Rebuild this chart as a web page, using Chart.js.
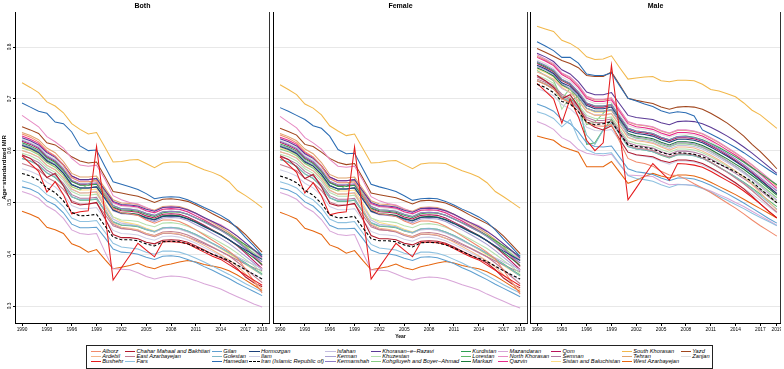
<!DOCTYPE html>
<html><head><meta charset="utf-8">
<script src="https://cdn.jsdelivr.net/npm/chart.js@4.4.1/dist/chart.umd.min.js"></script>
<style>
html,body{margin:0;padding:0;background:#fff;}
#wrap{position:relative;width:784px;height:369px;overflow:hidden;font-family:"Liberation Sans",Arial,sans-serif;}
.p{position:absolute;top:0;height:345px;}
#pA{left:0;width:270px}#pB{left:263px;width:265px}#pC{left:520px;width:261px}
#legend{position:absolute;left:86px;top:345px;width:627px;height:24px;border:1px solid #222;box-sizing:border-box;display:grid;grid-template-rows:repeat(3,5.2px);grid-auto-flow:column;grid-auto-columns:max-content;column-gap:1.4px;padding:3px 0 0 3.5px;font-style:italic;font-size:5.7px;line-height:5.2px;color:#000;}
.it{display:flex;align-items:center;white-space:nowrap}
.sw{display:inline-block;width:10.5px;height:0;border-top:1px solid;margin-right:1.2px}
</style></head>
<body><div id="wrap">
<div class="p" id="pA"><canvas id="cA" width="270" height="345"></canvas></div>
<div class="p" id="pB"><canvas id="cB" width="265" height="345"></canvas></div>
<div class="p" id="pC"><canvas id="cC" width="261" height="345"></canvas></div>
<div id="legend"></div>
</div>
<script>
const years=[1990,1991,1992,1993,1994,1995,1996,1997,1998,1999,2000,2001,2002,2003,2004,2005,2006,2007,2008,2009,2010,2011,2012,2013,2014,2015,2016,2017,2018,2019];
const xTickYears=[1990,1993,1996,1999,2002,2005,2008,2011,2014,2017,2019];
const yTickValues=[0.3,0.4,0.5,0.6,0.7,0.8];
const panelTitles=['Both','Female','Male'];
const provinces=['Alborz','Ardebil','Bushehr','Chahar Mahaal and Bakhtiari','East Azarbayejan','Fars','Gilan','Golestan','Hamedan','Hormozgan','Ilam','Iran (Islamic Republic of)','Isfahan','Kerman','Kermanshah','Khorasan−e−Razavi','Khuzestan','Kohgiluyeh and Boyer−Ahmad','Kurdistan','Lorestan','Markazi','Mazandaran','North Khorasan','Qazvin','Qom','Semnan','Sistan and Baluchistan','South Khorasan','Tehran','West Azarbayejan','Yazd','Zanjan'];
const colors=['#f08a6c','#f3b58a','#e41a1c','#b2182b','#c27c8e','#8ec1e0','#5e9fd0','#7fb8c8','#2b6cb3','#1b3f7a','#cfcfe6','#000000','#c4bde0','#a9a0d2','#8d7cc3','#5b3a96','#b5e0ae','#88cc84','#2e9e50','#5fb868','#1b7a3a','#d8a6d8','#e78ac3','#e7298a','#b8125a','#b07aa1','#fddc84','#f2b84b','#e0a36c','#e6660f','#a0451c','#dedede'];

// Both
const B_Alborz=[.632,.626,.617,.600,.590,.572,.548,.540,.540,.542,.515,.488,.480,.478,.475,.466,.460,.466,.466,.463,.456,.447,.437,.427,.417,.406,.393,.371,.348,.325];
const B_Ardebil=[.600,.595,.588,.572,.563,.548,.526,.518,.518,.520,.490,.460,.452,.450,.447,.440,.435,.441,.441,.439,.433,.425,.417,.408,.399,.389,.377,.362,.347,.333];
const B_Bushehr=[.590,.575,.560,.520,.540,.515,.478,.482,.484,.608,.480,.350,.374,.397,.421,.408,.395,.424,.424,.423,.420,.412,.404,.396,.390,.380,.370,.360,.350,.340];
const B_Chahar=[.592,.585,.570,.548,.556,.532,.500,.495,.497,.500,.470,.438,.432,.432,.430,.423,.420,.427,.428,.427,.423,.416,.408,.400,.393,.385,.372,.356,.345,.337];
const B_EastAzar=[.575,.570,.563,.548,.540,.525,.503,.497,.497,.499,.477,.455,.449,.448,.446,.440,.436,.443,.444,.442,.437,.430,.422,.414,.406,.397,.385,.372,.358,.345];
const B_Fars=[.542,.537,.530,.515,.507,.492,.470,.463,.463,.465,.443,.421,.414,.412,.410,.404,.400,.406,.406,.404,.399,.392,.385,.377,.369,.361,.352,.343,.335,.327];
const B_Gilan=[.530,.526,.518,.503,.495,.480,.458,.451,.451,.452,.432,.410,.404,.403,.400,.394,.390,.396,.397,.395,.390,.384,.376,.369,.361,.353,.344,.336,.328,.320];
const B_Golestan=[.585,.580,.572,.557,.549,.533,.511,.505,.505,.507,.485,.463,.457,.456,.454,.448,.444,.451,.452,.450,.445,.438,.430,.421,.413,.404,.393,.382,.371,.360];
const B_Hamedan=[.692,.684,.676,.672,.655,.652,.636,.609,.600,.601,.570,.540,.535,.530,.525,.517,.507,.510,.511,.510,.505,.498,.490,.483,.475,.465,.450,.432,.416,.398];
const B_Hormozgan=[.610,.604,.596,.580,.572,.556,.534,.528,.528,.530,.508,.485,.479,.478,.476,.470,.466,.473,.474,.473,.468,.461,.453,.445,.437,.428,.418,.408,.399,.390];
const B_Ilam=[.565,.560,.553,.539,.530,.515,.494,.488,.488,.490,.468,.446,.440,.439,.437,.431,.427,.434,.435,.433,.428,.421,.413,.405,.397,.388,.379,.370,.361,.352];
const B_Iran=[.556,.551,.543,.528,.519,.503,.481,.474,.475,.477,.455,.433,.428,.428,.426,.420,.416,.424,.425,.424,.420,.414,.407,.400,.394,.388,.379,.370,.361,.352];
const B_Isfahan=[.600,.595,.587,.571,.563,.547,.525,.518,.519,.521,.495,.468,.460,.458,.455,.448,.443,.449,.450,.448,.443,.436,.428,.420,.412,.404,.395,.387,.380,.372];
const B_Kerman=[.612,.607,.599,.583,.574,.558,.535,.528,.528,.530,.507,.484,.478,.477,.475,.468,.463,.470,.471,.470,.465,.457,.449,.440,.431,.421,.409,.396,.383,.370];
const B_Kermanshah=[.620,.614,.606,.590,.581,.565,.543,.536,.536,.538,.516,.494,.488,.487,.485,.479,.475,.482,.483,.482,.477,.470,.462,.454,.446,.436,.424,.411,.398,.385];
const B_Khorasan=[.625,.619,.611,.596,.587,.572,.551,.544,.544,.546,.524,.502,.496,.495,.493,.487,.483,.490,.491,.490,.486,.479,.471,.463,.455,.446,.435,.422,.409,.395];
const B_Khuzestan=[.595,.590,.582,.567,.558,.543,.521,.514,.514,.516,.494,.472,.466,.465,.463,.457,.453,.460,.461,.459,.454,.447,.439,.431,.422,.413,.402,.390,.378,.365];
const B_Kohgiluyeh=[.605,.600,.592,.577,.568,.552,.530,.524,.535,.547,.520,.494,.488,.487,.485,.479,.475,.482,.483,.482,.477,.470,.462,.454,.446,.437,.426,.414,.402,.390];
const B_Kurdistan=[.615,.609,.601,.586,.577,.561,.540,.533,.533,.535,.513,.491,.486,.485,.483,.477,.473,.480,.482,.481,.477,.470,.463,.455,.447,.438,.428,.418,.408,.398];
const B_Lorestan=[.585,.580,.572,.557,.548,.533,.511,.504,.504,.506,.484,.462,.456,.455,.453,.447,.443,.450,.451,.450,.445,.438,.430,.421,.412,.403,.393,.383,.372,.362];
const B_Markazi=[.612,.606,.598,.582,.573,.557,.535,.528,.528,.530,.508,.486,.480,.479,.477,.471,.467,.474,.475,.474,.469,.462,.454,.446,.438,.428,.417,.405,.393,.380];
const B_Mazandaran=[.521,.516,.508,.493,.484,.469,.447,.440,.438,.440,.405,.372,.371,.370,.364,.357,.352,.356,.358,.357,.354,.349,.343,.338,.333,.325,.318,.311,.304,.298];
const B_NKhorasan=[.668,.657,.646,.627,.617,.605,.585,.572,.570,.572,.545,.513,.505,.500,.497,.490,.483,.490,.492,.490,.485,.478,.470,.463,.457,.447,.435,.422,.408,.392];
const B_Qazvin=[.628,.622,.614,.598,.589,.573,.551,.544,.544,.546,.523,.500,.494,.493,.491,.484,.480,.487,.488,.487,.482,.474,.466,.457,.448,.438,.426,.413,.396,.378];
const B_Qom=[.618,.612,.604,.588,.579,.563,.541,.534,.534,.536,.513,.490,.484,.483,.481,.474,.470,.477,.478,.477,.472,.464,.456,.447,.438,.428,.416,.402,.387,.372];
const B_Semnan=[.590,.585,.577,.562,.553,.537,.515,.508,.508,.510,.484,.458,.450,.448,.445,.438,.434,.440,.440,.438,.433,.427,.420,.413,.405,.397,.389,.381,.374,.368];
const B_Sistan=[.608,.602,.594,.578,.569,.553,.531,.524,.524,.526,.500,.472,.463,.460,.457,.450,.445,.451,.451,.449,.444,.437,.429,.420,.411,.401,.391,.380,.370,.360];
const B_SKhorasan=[.731,.722,.712,.694,.686,.673,.652,.641,.632,.635,.607,.578,.579,.582,.583,.575,.567,.576,.578,.578,.577,.570,.563,.558,.551,.540,.523,.513,.502,.490];
const B_Tehran=[.635,.629,.621,.605,.596,.579,.556,.549,.549,.551,.528,.505,.499,.498,.496,.489,.485,.492,.493,.492,.487,.479,.470,.461,.452,.442,.430,.417,.399,.380];
const B_WAzar=[.483,.477,.470,.452,.447,.440,.420,.414,.404,.409,.390,.372,.375,.378,.383,.376,.372,.378,.381,.385,.388,.385,.380,.377,.374,.368,.360,.350,.340,.330];
const B_Yazd=[.646,.640,.633,.615,.611,.600,.588,.580,.576,.578,.550,.521,.518,.515,.512,.506,.500,.506,.507,.505,.502,.495,.487,.478,.470,.462,.452,.438,.421,.404];
const B_Zanjan=[.622,.616,.608,.593,.584,.568,.547,.540,.540,.542,.520,.498,.492,.491,.489,.483,.479,.486,.487,.486,.481,.474,.466,.458,.450,.441,.430,.418,.405,.392];

// Female
const F_Alborz=[.630,.624,.615,.598,.588,.570,.546,.538,.538,.540,.513,.486,.478,.476,.473,.464,.458,.464,.464,.461,.454,.445,.435,.425,.415,.404,.391,.369,.346,.323];
const F_Ardebil=[.598,.593,.586,.570,.561,.546,.524,.516,.516,.518,.488,.458,.450,.448,.445,.438,.433,.439,.439,.437,.431,.423,.415,.406,.397,.387,.375,.360,.345,.331];
const F_Bushehr=[.588,.573,.558,.518,.538,.513,.476,.480,.482,.607,.478,.352,.375,.398,.421,.408,.395,.423,.423,.422,.419,.411,.403,.395,.389,.379,.369,.359,.349,.339];
const F_Chahar=[.590,.583,.568,.546,.554,.530,.498,.493,.495,.498,.468,.436,.430,.430,.428,.421,.418,.425,.426,.425,.421,.414,.406,.398,.391,.383,.370,.354,.343,.335];
const F_EastAzar=[.573,.568,.561,.546,.538,.523,.501,.495,.495,.497,.475,.453,.447,.446,.444,.438,.434,.441,.442,.440,.435,.428,.420,.412,.404,.395,.383,.370,.356,.343];
const F_Fars=[.540,.535,.528,.513,.505,.490,.468,.461,.461,.463,.441,.419,.412,.410,.408,.402,.398,.404,.404,.402,.397,.390,.383,.375,.367,.359,.350,.341,.333,.325];
const F_Gilan=[.528,.524,.516,.501,.493,.478,.456,.449,.449,.450,.430,.408,.402,.401,.398,.392,.388,.394,.395,.393,.388,.382,.374,.367,.359,.351,.342,.334,.326,.318];
const F_Golestan=[.583,.578,.570,.555,.547,.531,.509,.503,.503,.505,.483,.461,.455,.454,.452,.446,.442,.449,.450,.448,.443,.436,.428,.419,.411,.402,.391,.380,.369,.358];
const F_Hamedan=[.683,.676,.668,.660,.648,.643,.628,.602,.594,.595,.565,.535,.530,.526,.521,.513,.504,.507,.508,.507,.502,.495,.487,.480,.472,.462,.447,.429,.413,.396];
const F_Hormozgan=[.608,.602,.594,.578,.570,.554,.532,.526,.526,.528,.506,.483,.477,.476,.474,.468,.464,.471,.472,.471,.466,.459,.451,.443,.435,.426,.416,.406,.397,.388];
const F_Ilam=[.563,.558,.551,.537,.528,.513,.492,.486,.486,.488,.466,.444,.438,.437,.435,.429,.425,.432,.433,.431,.426,.419,.411,.403,.395,.386,.377,.368,.359,.350];
const F_Iran=[.551,.546,.538,.523,.514,.498,.476,.470,.471,.473,.451,.430,.426,.426,.424,.418,.414,.422,.423,.422,.418,.412,.405,.398,.392,.386,.377,.368,.360,.352];
const F_Isfahan=[.598,.593,.585,.569,.561,.545,.523,.516,.517,.519,.493,.466,.458,.456,.453,.446,.441,.447,.448,.446,.441,.434,.426,.418,.410,.402,.393,.385,.378,.370];
const F_Kerman=[.610,.605,.597,.581,.572,.556,.533,.526,.526,.528,.505,.482,.476,.475,.473,.466,.461,.468,.469,.468,.463,.455,.447,.438,.429,.419,.407,.394,.381,.368];
const F_Kermanshah=[.618,.612,.604,.588,.579,.563,.541,.534,.534,.536,.514,.492,.486,.485,.483,.477,.473,.480,.481,.480,.475,.468,.460,.452,.444,.434,.422,.409,.396,.383];
const F_Khorasan=[.623,.617,.609,.594,.585,.570,.549,.542,.542,.544,.522,.500,.494,.493,.491,.485,.481,.488,.489,.488,.484,.477,.469,.461,.453,.444,.433,.420,.407,.393];
const F_Khuzestan=[.593,.588,.580,.565,.556,.541,.519,.512,.512,.514,.492,.470,.464,.463,.461,.455,.451,.458,.459,.457,.452,.445,.437,.429,.420,.411,.400,.388,.376,.363];
const F_Kohgiluyeh=[.603,.598,.590,.575,.566,.550,.528,.522,.533,.545,.518,.492,.486,.485,.483,.477,.473,.480,.481,.480,.475,.468,.460,.452,.444,.435,.424,.412,.400,.388];
const F_Kurdistan=[.613,.607,.599,.584,.575,.559,.538,.531,.531,.533,.511,.489,.484,.483,.481,.475,.471,.478,.480,.479,.475,.468,.461,.453,.445,.436,.426,.416,.406,.396];
const F_Lorestan=[.583,.578,.570,.555,.546,.531,.509,.502,.502,.504,.482,.460,.454,.453,.451,.445,.441,.448,.449,.448,.443,.436,.428,.419,.410,.401,.391,.381,.370,.360];
const F_Markazi=[.610,.604,.596,.580,.571,.555,.533,.526,.526,.528,.506,.484,.478,.477,.475,.469,.465,.472,.473,.472,.467,.460,.452,.444,.436,.426,.415,.403,.391,.378];
const F_Mazandaran=[.519,.514,.506,.491,.482,.467,.445,.438,.436,.438,.403,.370,.369,.368,.362,.355,.350,.354,.356,.355,.352,.347,.341,.336,.331,.323,.316,.309,.302,.296];
const F_NKhorasan=[.666,.655,.644,.625,.615,.603,.583,.570,.568,.570,.543,.511,.503,.498,.495,.488,.481,.488,.490,.488,.483,.476,.468,.461,.455,.445,.433,.420,.406,.390];
const F_Qazvin=[.626,.620,.612,.596,.587,.571,.549,.542,.542,.544,.521,.498,.492,.491,.489,.482,.478,.485,.486,.485,.480,.472,.464,.455,.446,.436,.424,.411,.394,.376];
const F_Qom=[.616,.610,.602,.586,.577,.561,.539,.532,.532,.534,.511,.488,.482,.481,.479,.472,.468,.475,.476,.475,.470,.462,.454,.445,.436,.426,.414,.400,.385,.370];
const F_Semnan=[.588,.583,.575,.560,.551,.535,.513,.506,.506,.508,.482,.456,.448,.446,.443,.436,.432,.438,.438,.436,.431,.425,.418,.411,.403,.395,.387,.379,.372,.366];
const F_Sistan=[.606,.600,.592,.576,.567,.551,.529,.522,.522,.524,.498,.470,.461,.458,.455,.448,.443,.449,.449,.447,.442,.435,.427,.418,.409,.399,.389,.378,.368,.358];
const F_SKhorasan=[.727,.718,.708,.690,.682,.669,.648,.638,.629,.632,.604,.576,.577,.580,.581,.573,.565,.574,.576,.576,.575,.568,.561,.556,.549,.538,.521,.511,.500,.489];
const F_Tehran=[.633,.627,.619,.603,.594,.577,.554,.547,.547,.549,.526,.503,.497,.496,.494,.487,.483,.490,.491,.490,.485,.477,.468,.459,.450,.440,.428,.415,.397,.378];
const F_WAzar=[.481,.475,.468,.450,.445,.438,.418,.412,.402,.407,.388,.370,.373,.376,.381,.374,.370,.376,.379,.383,.386,.383,.378,.375,.372,.366,.358,.348,.338,.328];
const F_Yazd=[.643,.637,.630,.612,.608,.597,.585,.577,.573,.575,.547,.518,.515,.512,.509,.503,.497,.503,.504,.502,.499,.492,.484,.475,.467,.459,.449,.435,.418,.401];
const F_Zanjan=[.620,.614,.606,.591,.582,.566,.545,.538,.538,.540,.518,.496,.490,.489,.487,.481,.477,.484,.485,.484,.479,.472,.464,.456,.448,.439,.428,.416,.403,.390];

// Male
const M_Alborz=[.735,.728,.719,.700,.692,.676,.655,.648,.647,.650,.617,.585,.578,.575,.570,.560,.553,.552,.545,.536,.528,.519,.509,.499,.489,.478,.466,.455,.445,.435];
const M_Ardebil=[.752,.745,.738,.722,.712,.697,.676,.668,.668,.671,.648,.625,.619,.617,.614,.607,.601,.607,.607,.605,.599,.591,.582,.572,.561,.549,.535,.519,.502,.485];
const M_Bushehr=[.730,.715,.700,.653,.700,.665,.620,.600,.615,.765,.635,.505,.528,.552,.575,.559,.543,.575,.574,.572,.568,.560,.551,.542,.533,.522,.510,.497,.483,.470];
const M_Chahar=[.745,.735,.722,.700,.708,.685,.655,.645,.640,.648,.622,.597,.592,.590,.588,.581,.577,.582,.582,.580,.575,.567,.558,.548,.538,.526,.512,.497,.483,.470];
const M_EastAzar=[.738,.732,.724,.706,.698,.682,.660,.654,.654,.657,.634,.611,.605,.603,.600,.593,.588,.594,.594,.592,.586,.578,.568,.558,.547,.536,.523,.509,.495,.481];
const M_Fars=[.675,.670,.662,.646,.660,.623,.602,.595,.594,.596,.574,.552,.546,.544,.541,.534,.529,.534,.534,.532,.527,.520,.512,.504,.496,.488,.479,.471,.463,.455];
const M_Gilan=[.690,.684,.676,.660,.652,.636,.615,.608,.607,.609,.587,.565,.559,.557,.554,.547,.542,.547,.547,.545,.540,.533,.525,.517,.508,.499,.489,.479,.469,.460];
const M_Golestan=[.735,.729,.721,.703,.695,.680,.630,.612,.640,.654,.631,.608,.603,.601,.598,.592,.587,.592,.592,.590,.585,.577,.568,.559,.549,.538,.526,.513,.500,.487];
const M_Hamedan=[.810,.802,.793,.780,.780,.769,.748,.745,.745,.750,.725,.701,.696,.690,.685,.677,.672,.675,.673,.667,.640,.632,.624,.615,.606,.596,.585,.574,.563,.553];
const M_Hormozgan=[.765,.758,.749,.731,.724,.708,.687,.681,.681,.684,.661,.638,.633,.631,.628,.621,.616,.622,.622,.620,.615,.607,.598,.589,.579,.568,.556,.543,.530,.517];
const M_Ilam=[.720,.714,.706,.689,.681,.666,.645,.639,.638,.641,.619,.597,.591,.589,.586,.579,.574,.580,.580,.578,.572,.565,.556,.547,.537,.527,.516,.504,.492,.480];
const M_Iran=[.728,.722,.712,.695,.690,.675,.655,.650,.652,.656,.633,.611,.608,.606,.603,.597,.592,.596,.595,.593,.588,.582,.574,.567,.559,.550,.540,.526,.513,.499];
const M_Isfahan=[.752,.746,.737,.720,.712,.696,.675,.669,.669,.672,.649,.626,.621,.619,.616,.609,.604,.610,.610,.608,.603,.595,.586,.577,.567,.556,.544,.531,.518,.505];
const M_Kerman=[.762,.756,.747,.729,.720,.704,.682,.676,.676,.679,.655,.631,.626,.624,.621,.614,.609,.615,.615,.613,.607,.599,.590,.580,.570,.559,.546,.532,.518,.504];
const M_Kermanshah=[.772,.765,.756,.738,.730,.713,.692,.686,.686,.689,.666,.643,.638,.636,.633,.626,.621,.627,.627,.625,.620,.612,.603,.594,.584,.573,.561,.548,.535,.522];
const M_Khorasan=[.788,.781,.772,.756,.748,.733,.713,.708,.708,.712,.690,.668,.664,.662,.660,.654,.650,.656,.657,.656,.652,.645,.637,.628,.618,.607,.595,.582,.569,.556];
const M_Khuzestan=[.745,.739,.730,.680,.705,.689,.668,.662,.662,.665,.642,.619,.614,.612,.609,.602,.597,.603,.603,.601,.596,.588,.579,.570,.560,.550,.538,.526,.513,.500];
const M_Kohgiluyeh=[.755,.745,.735,.700,.720,.690,.650,.655,.672,.690,.660,.630,.624,.622,.619,.612,.607,.613,.613,.611,.606,.598,.589,.580,.570,.559,.547,.535,.522,.509];
const M_Kurdistan=[.770,.763,.754,.737,.729,.713,.692,.686,.686,.689,.666,.643,.638,.636,.633,.626,.621,.627,.628,.626,.621,.614,.606,.597,.588,.578,.567,.556,.545,.534];
const M_Lorestan=[.735,.728,.719,.702,.694,.706,.612,.615,.640,.660,.631,.608,.603,.601,.598,.591,.586,.592,.592,.590,.585,.577,.568,.559,.549,.539,.528,.516,.504,.492];
const M_Markazi=[.760,.753,.744,.727,.719,.703,.682,.676,.676,.679,.656,.633,.628,.626,.623,.616,.611,.617,.617,.615,.610,.602,.593,.584,.574,.564,.552,.540,.527,.514];
const M_Mazandaran=[.656,.650,.641,.625,.617,.602,.595,.592,.590,.593,.573,.553,.552,.551,.550,.541,.534,.535,.534,.533,.528,.522,.515,.508,.500,.492,.483,.474,.465,.456];
const M_NKhorasan=[.785,.777,.768,.750,.742,.727,.705,.699,.699,.702,.679,.656,.651,.649,.646,.639,.634,.640,.640,.638,.633,.625,.616,.606,.596,.585,.573,.560,.547,.534];
const M_Qazvin=[.780,.773,.764,.747,.738,.722,.701,.695,.695,.698,.675,.652,.646,.644,.641,.634,.629,.635,.635,.633,.628,.620,.611,.601,.591,.580,.568,.555,.541,.527];
const M_Qom=[.768,.761,.752,.735,.727,.711,.690,.684,.684,.687,.664,.641,.636,.634,.631,.624,.619,.625,.625,.623,.618,.610,.601,.591,.581,.570,.558,.545,.531,.517];
const M_Semnan=[.742,.735,.726,.709,.701,.685,.664,.658,.658,.661,.638,.615,.610,.608,.605,.598,.593,.599,.599,.597,.592,.584,.575,.566,.556,.546,.535,.523,.511,.499];
const M_Sistan=[.758,.751,.742,.725,.717,.701,.680,.674,.674,.677,.654,.631,.626,.624,.621,.614,.609,.615,.615,.613,.608,.600,.591,.581,.570,.559,.546,.532,.518,.503];
const M_SKhorasan=[.840,.835,.830,.813,.807,.797,.781,.776,.777,.783,.760,.738,.740,.742,.743,.735,.733,.736,.736,.735,.728,.718,.715,.710,.704,.692,.678,.669,.656,.643];
const M_Tehran=[.782,.775,.766,.749,.741,.725,.704,.698,.698,.701,.678,.655,.650,.648,.645,.638,.633,.639,.639,.637,.632,.624,.615,.605,.595,.584,.572,.559,.545,.531];
const M_WAzar=[.628,.624,.620,.608,.602,.597,.569,.569,.569,.579,.558,.537,.543,.550,.556,.551,.547,.553,.553,.551,.546,.539,.531,.523,.515,.506,.497,.488,.479,.470];
const M_Yazd=[.797,.790,.782,.774,.768,.760,.745,.743,.743,.752,.727,.701,.697,.694,.691,.684,.680,.684,.685,.684,.680,.672,.663,.653,.641,.628,.612,.598,.582,.565];
const M_Zanjan=[.775,.768,.759,.742,.734,.718,.697,.691,.691,.694,.671,.648,.643,.641,.638,.631,.626,.632,.632,.630,.625,.617,.608,.598,.588,.577,.565,.552,.538,.524];

const bothSeries=[B_Alborz,B_Ardebil,B_Bushehr,B_Chahar,B_EastAzar,B_Fars,B_Gilan,B_Golestan,B_Hamedan,B_Hormozgan,B_Ilam,B_Iran,B_Isfahan,B_Kerman,B_Kermanshah,B_Khorasan,B_Khuzestan,B_Kohgiluyeh,B_Kurdistan,B_Lorestan,B_Markazi,B_Mazandaran,B_NKhorasan,B_Qazvin,B_Qom,B_Semnan,B_Sistan,B_SKhorasan,B_Tehran,B_WAzar,B_Yazd,B_Zanjan];
const femaleSeries=[F_Alborz,F_Ardebil,F_Bushehr,F_Chahar,F_EastAzar,F_Fars,F_Gilan,F_Golestan,F_Hamedan,F_Hormozgan,F_Ilam,F_Iran,F_Isfahan,F_Kerman,F_Kermanshah,F_Khorasan,F_Khuzestan,F_Kohgiluyeh,F_Kurdistan,F_Lorestan,F_Markazi,F_Mazandaran,F_NKhorasan,F_Qazvin,F_Qom,F_Semnan,F_Sistan,F_SKhorasan,F_Tehran,F_WAzar,F_Yazd,F_Zanjan];
const maleSeries=[M_Alborz,M_Ardebil,M_Bushehr,M_Chahar,M_EastAzar,M_Fars,M_Gilan,M_Golestan,M_Hamedan,M_Hormozgan,M_Ilam,M_Iran,M_Isfahan,M_Kerman,M_Kermanshah,M_Khorasan,M_Khuzestan,M_Kohgiluyeh,M_Kurdistan,M_Lorestan,M_Markazi,M_Mazandaran,M_NKhorasan,M_Qazvin,M_Qom,M_Semnan,M_Sistan,M_SKhorasan,M_Tehran,M_WAzar,M_Yazd,M_Zanjan];

const FONT='"Liberation Sans", Arial, sans-serif';
const NATIONAL='Iran (Islamic Republic of)';

const panelBorder={id:'panelBorder',afterDraw(c){const a=c.chartArea,ctx=c.ctx;ctx.save();ctx.strokeStyle='#333';ctx.lineWidth=1;ctx.beginPath();const x=Math.round(a.right)-0.5;ctx.moveTo(x,a.top);ctx.lineTo(x,a.bottom);ctx.stroke();ctx.restore();}};

function makePanel(id,title,series,xMin,xMax,showY,showYear){
  const datasets=provinces.map((p,i)=>({
    label:p,
    data:years.map((yr,j)=>({x:yr,y:series[i][j]})),
    borderColor:colors[i],
    backgroundColor:colors[i],
    borderWidth:p===NATIONAL?1.1:1.05,
    borderDash:p===NATIONAL?[3,2]:[],
    pointRadius:0,tension:0,fill:false,
    order:p===NATIONAL?-2:(i===2?-1:0)
  }));
  return new Chart(document.getElementById(id),{
    type:'line',
    data:{datasets},
    options:{
      animation:false,responsive:false,devicePixelRatio:1,
      layout:{padding:0},
      events:[],
      plugins:{legend:{display:false},tooltip:{enabled:false},
        title:{display:true,text:title,fullSize:false,color:'#000',font:{family:FONT,size:7,weight:'bold'},padding:{top:2,bottom:1.6}}},
      scales:{
        x:{type:'linear',min:xMin,max:xMax,
          afterBuildTicks:s=>{s.ticks=xTickYears.map(v=>({value:v}));},
          ticks:{callback:v=>String(v),color:'#000',font:{family:FONT,size:4.8},padding:1,maxRotation:0,minRotation:0,autoSkip:false},
          grid:{drawOnChartArea:false,drawTicks:true,tickLength:3,color:'#000',tickColor:'#000'},
          border:{display:true,color:'#000',width:1},
          title:{display:showYear,text:'Year',color:'#000',font:{family:FONT,size:5,weight:'bold'},padding:{top:0,bottom:5}},
          afterFit:s=>{s.height=22;s.paddingLeft=0;s.paddingRight=0;}
        },
        y:{type:'linear',min:0.2672,max:0.8676,
          afterBuildTicks:s=>{s.ticks=yTickValues.map(v=>({value:v}));},
          ticks:{display:showY,callback:v=>Number(v).toFixed(1),color:'#000',font:{family:FONT,size:4.8},minRotation:90,maxRotation:90,padding:0,crossAlign:'center'},
          grid:{color:'#e8e8e8',lineWidth:1,drawTicks:showY,tickLength:2,tickColor:'#000'},
          border:{display:true,color:'#000',width:1},
          title:{display:showY,text:'Age−standardized MIR',color:'#000',font:{family:FONT,size:6,weight:'bold'},padding:{top:0.5,bottom:0}},
          afterFit:s=>{s.width=showY?15:10;s.paddingTop=0;s.paddingBottom=0;}
        }
      }
    },
    plugins:[panelBorder]
  });
}
const chartA=makePanel('cA',panelTitles[0],bothSeries,1989.15,2019.95,true,false);
const chartB=makePanel('cB',panelTitles[1],femaleSeries,1989.15,2019.95,false,true);
const chartC=makePanel('cC',panelTitles[2],maleSeries,1989.15,2019.5,false,false);

// legend built from the chart's own datasets (column-major, 3 rows)
const lg=document.getElementById('legend');
chartA.data.datasets.forEach(ds=>{
  const it=document.createElement('div');it.className='it';
  const sw=document.createElement('span');sw.className='sw';
  sw.style.borderTopColor=ds.borderColor;
  if(ds.label===NATIONAL){sw.style.borderTopStyle='dashed';}
  const tx=document.createElement('span');tx.textContent=ds.label;
  it.appendChild(sw);it.appendChild(tx);lg.appendChild(it);
});
</script>
</body></html>
